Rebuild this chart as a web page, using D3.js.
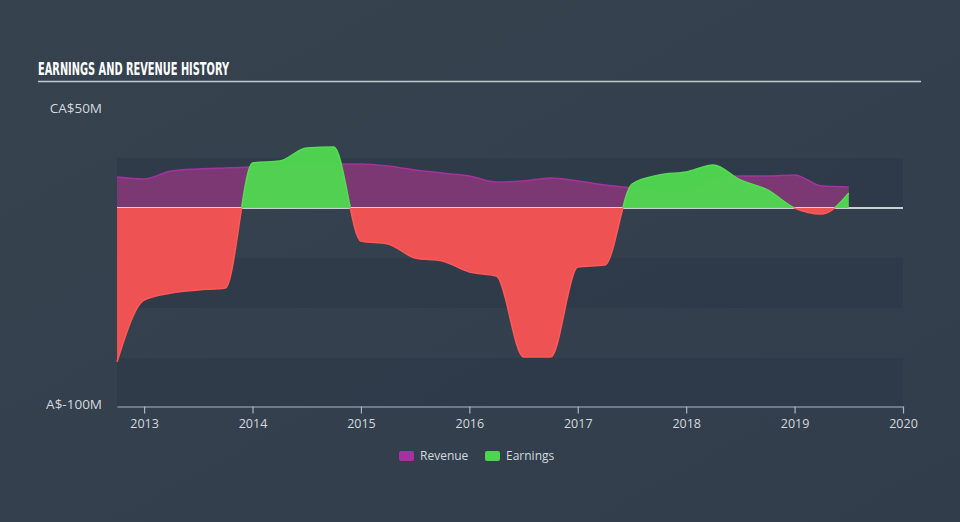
<!DOCTYPE html>
<html><head><meta charset="utf-8">
<script src="https://cdn.jsdelivr.net/npm/d3@7/dist/d3.min.js"></script>
<style>html,body{margin:0;padding:0;background:#344150;}svg{display:block;}</style>
</head><body>
<svg id="chart" width="960" height="522"></svg>
<script>
// Quarterly dates (decimal years)
const dates = [2012.75,2013.0,2013.25,2013.5,2013.75,2014.0,2014.25,2014.5,2014.75,2015.0,2015.25,2015.5,2015.75,2016.0,2016.25,2016.5,2016.75,2017.0,2017.25,2017.5,2017.75,2018.0,2018.25,2018.5,2018.75,2019.0,2019.25,2019.5];
// Values in CA$ millions
const revenue  = [15.5,14.5,18.5,19.5,20,20.5,21,21.5,22,22,21,19,17.5,16,13,13.5,15,13.5,11.5,10,8,7.5,14,16,16,16.5,11,10.5];
const earnings = [-77,-46,-42.5,-41,-40,22.5,23.5,30,30.5,-16.5,-18,-25,-26.5,-32,-34,-74.5,-74.5,-29.5,-28.5,12,16.5,18,21.5,14,9,0,-3,7.5];
const yTicks = [50,-100];
const yTickLabels = ["CA$50M","CA$-100M"];
const xTicks = [2013,2014,2015,2016,2017,2018,2019,2020];
const bandRanges = [[0,25],[-50,-25],[-100,-75]];

(function(){
const svg = d3.select("#chart");
const W=960,H=522;
const pLeft=117,pRight=903,pTop=108,pBottom=408,axisY=406.5;
const x = d3.scaleLinear().domain([2012.75,2020]).range([pLeft,pRight]);
const y = d3.scaleLinear().domain([-100,50]).range([pBottom,pTop]);

const defs = svg.append("defs");
const bg = defs.append("linearGradient").attr("id","bg").attr("x1","0").attr("y1","0").attr("x2","1").attr("y2","1");
bg.append("stop").attr("offset","0").attr("stop-color","#36434f");
bg.append("stop").attr("offset","1").attr("stop-color","#313d4b");
svg.append("rect").attr("width",W).attr("height",H).attr("fill","url(#bg)");

// title
svg.append("text").attr("x",38).attr("y",75).attr("fill","#ffffff")
  .attr("font-family","'Liberation Sans Narrow','DejaVu Sans Condensed',sans-serif").attr("font-weight","bold")
  .attr("font-size",17).attr("textLength",191).attr("lengthAdjust","spacingAndGlyphs")
  .text("EARNINGS AND REVENUE HISTORY");
svg.append("line").attr("x1",38).attr("x2",921).attr("y1",81.5).attr("y2",81.5).attr("stroke","#c4c9cf").attr("stroke-width",1.5);

// bands
svg.append("g").selectAll("rect").data(bandRanges).join("rect")
  .attr("x",pLeft).attr("width",pRight-pLeft)
  .attr("y",d=>y(d[1])).attr("height",d=>Math.min(y(d[0]),axisY)-y(d[1]))
  .attr("fill","#2e3a48").attr("opacity",0.75);

const curve = d3.curveMonotoneX;
const rdata = dates.map((d,i)=>({d, v:revenue[i]}));
const edata = dates.map((d,i)=>({d, v:earnings[i]}));

// revenue area
svg.append("path").datum(rdata)
  .attr("d", d3.area().curve(curve).x(p=>x(p.d)).y0(y(0)).y1(p=>y(p.v)))
  .attr("fill","#7b3873");
svg.append("path").datum(rdata)
  .attr("d", d3.line().curve(curve).x(p=>x(p.d)).y(p=>y(p.v)))
  .attr("fill","none").attr("stroke","#a6329f").attr("stroke-width",1.5);

// zero line
svg.append("line").attr("x1",pLeft).attr("x2",pRight).attr("y1",y(0)).attr("y2",y(0))
  .attr("stroke","#ffffff").attr("stroke-width",1.5);

// earnings clip
defs.append("clipPath").attr("id","above").append("rect")
  .attr("x",0).attr("y",0).attr("width",W).attr("height",y(0));
defs.append("clipPath").attr("id","below").append("rect")
  .attr("x",0).attr("y",y(0)).attr("width",W).attr("height",H-y(0));

const earea = d3.area().curve(curve).x(p=>x(p.d)).y0(y(0)).y1(p=>y(p.v));
const eline = d3.line().curve(curve).x(p=>x(p.d)).y(p=>y(p.v));
const gA = svg.append("g").attr("clip-path","url(#above)");
gA.append("path").datum(edata).attr("d",earea).attr("fill","#4fd650").attr("opacity",0.97);
gA.append("path").datum(edata).attr("d",eline).attr("fill","none").attr("stroke","#55dc55").attr("stroke-width",1.5);
const gB = svg.append("g").attr("clip-path","url(#below)");
gB.append("path").datum(edata).attr("d",earea).attr("fill","#ef5252");
gB.append("path").datum(edata).attr("d",eline).attr("fill","none").attr("stroke","#ff5858").attr("stroke-width",1.5);

// x axis
const xa = svg.append("g").attr("transform",`translate(0,${axisY})`)
  .call(d3.axisBottom(x).tickValues(xTicks).tickFormat(d3.format("d")).tickSize(7).tickSizeOuter(0));
xa.select(".domain").attr("stroke","#aab6c4").attr("stroke-width",1.2);
xa.selectAll(".tick line").attr("stroke","#aab6c4").attr("stroke-width",1.2);
xa.selectAll(".tick text").attr("fill","#d4d9df").attr("font-size",12.5)
  .attr("font-family","'Open Sans',sans-serif").attr("dy","0.9em");

// y labels
defs.append("clipPath").attr("id","ylab").append("rect").attr("x",46).attr("y",0).attr("width",100).attr("height",H);
svg.append("g").attr("clip-path","url(#ylab)").selectAll("text").data(yTicks).join("text")
  .attr("x",102).attr("y",(d,i)=>i===0?108:404).attr("dy","0.35em").attr("text-anchor","end")
  .attr("fill","#d4d9df").attr("font-size",13.5).attr("font-family","'Open Sans',sans-serif")
  .text((d,i)=>yTickLabels[i]);

// legend
const legend = [{name:"Revenue",color:"#a6329f",x:399},{name:"Earnings",color:"#4fd650",x:485}];
const lg = svg.append("g").selectAll("g").data(legend).join("g").attr("transform",d=>`translate(${d.x},451)`);
lg.append("rect").attr("width",15).attr("height",10).attr("rx",2).attr("fill",d=>d.color);
lg.append("text").attr("x",21).attr("y",5).attr("dy","0.35em").attr("fill","#d4d9df")
  .attr("font-size",12).attr("font-family","'Open Sans',sans-serif").text(d=>d.name);
})();
</script>
</body></html>
